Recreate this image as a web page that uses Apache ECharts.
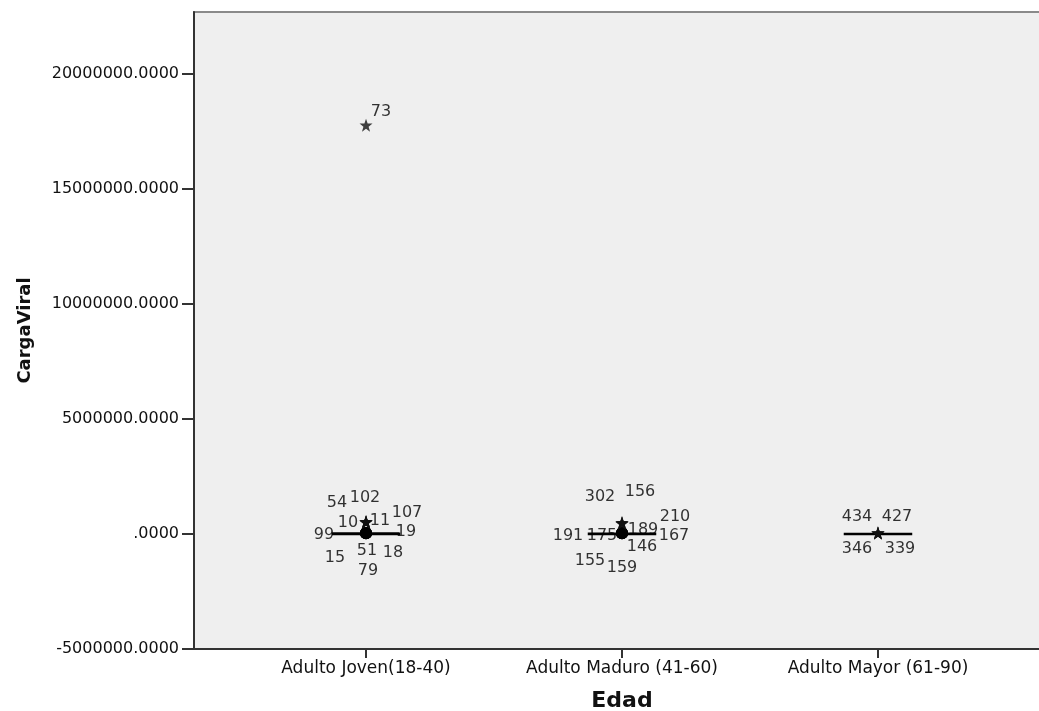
<!DOCTYPE html>
<html><head><meta charset="utf-8">
<script src="https://cdn.jsdelivr.net/npm/echarts@6/dist/echarts.min.js"></script>
<style>html,body{margin:0;padding:0;background:#fff}#c{width:1039px;height:711px}</style>
</head><body><div id="c"></div>
<script>
// ---------- DATA ----------
const categories = ['Adulto Joven(18-40)', 'Adulto Maduro (41-60)', 'Adulto Mayor (61-90)'];
const yTicks = [-5000000, 0, 5000000, 10000000, 15000000, 20000000];
const yMin = -5000000;
const yMax = 22700000;

// box statistics per group: [min, Q1, median, Q3, max]
const boxJoven  = [0, 20, 200, 9000, 22000];
const boxMaduro = [0, 20, 100, 7000, 17000];
const boxMayor  = [0, 20, 40, 2000, 5000];

// outliers (circles): case ids and values
const outJovenIds  = [99, 19, 15, 51, 18, 79];
const outJovenVals = [38000, 42000, 35000, 40000, 45000, 33000];
const outMaduroIds  = [191, 175, 167, 146, 155, 159];
const outMaduroVals = [36000, 41000, 39000, 44000, 34000, 38000];
const outMayorIds  = [];
const outMayorVals = [];

// extremes (stars): case ids and values
const extJovenIds  = [73, 54, 102, 10, 11, 107];
const extJovenVals = [17780000, 525000, 540000, 515000, 520000, 530000];
const extMaduroIds  = [302, 156, 210, 189];
const extMaduroVals = [490000, 500000, 470000, 460000];
const extMayorIds  = [434, 427, 346, 339];
const extMayorVals = [48000, 46000, 40000, 42000];

// ---------- LABEL LAYOUT (pixel offsets of case-id labels from their marks) ----------
const labelOffsets = {
  73: [15, -13], 54: [-29, -19], 102: [-1, -24], 107: [41, -9], 10: [-18, 1], 11: [14, -1],
  99: [-42, 2], 19: [40, -1], 15: [-31, 25], 51: [1, 18], 18: [27, 20], 79: [2, 38],
  302: [-22, -26], 156: [18, -31], 210: [53, -6], 189: [21, 6],
  191: [-54, 3], 175: [-20, 3], 167: [52, 3], 146: [20, 14], 155: [-32, 28], 159: [0, 35],
  434: [-21, -16], 427: [19, -16], 346: [-21, 16], 339: [22, 16]
};

// ---------- BUILD ----------
const boxes = [boxJoven, boxMaduro, boxMayor];
const outGroups = [[outJovenIds, outJovenVals], [outMaduroIds, outMaduroVals], [outMayorIds, outMayorVals]];
const extGroups = [[extJovenIds, extJovenVals], [extMaduroIds, extMaduroVals], [extMayorIds, extMayorVals]];

function pts(groups) {
  const res = [];
  groups.forEach((g, gi) => {
    g[0].forEach((id, i) => {
      res.push({ value: [gi, g[1][i], String(id)], label: { offset: labelOffsets[id] || [0, 0] } });
    });
  });
  return res;
}

const FONT = 'DejaVu Sans';
const starPath = 'path://M0,-10 L2.35,-3.24 L9.51,-3.09 L3.8,1.24 L5.88,8.09 L0,4 L-5.88,8.09 L-3.8,1.24 L-9.51,-3.09 L-2.35,-3.24 Z';
const idLabel = {
  show: true, position: 'inside', formatter: p => p.data.value[2],
  color: '#000', textBorderWidth: 0, textBorderColor: 'transparent',
  fontFamily: FONT, fontSize: 16
};

const chart = echarts.init(document.getElementById('c'), null, { renderer: 'canvas' });
chart.setOption({
  animation: false,
  backgroundColor: '#ffffff',
  grid: {
    left: 194, top: 12, right: -11, bottom: 62, containLabel: false, outerBoundsMode: 'none',
    show: true, backgroundColor: '#efefef', borderColor: '#8a8a8a', borderWidth: 2
  },
  xAxis: {
    type: 'value', min: -0.672, max: 2.672,
    name: 'Edad', nameLocation: 'middle', nameGap: 41,
    nameTextStyle: { fontFamily: FONT, fontSize: 22, fontWeight: 'bold', color: '#111' },
    splitLine: { show: false },
    axisLine: { show: true, onZero: false, lineStyle: { color: '#333', width: 2 } },
    axisTick: { show: true, customValues: [0, 1, 2], length: 9, lineStyle: { color: '#333', width: 2 } },
    axisLabel: {
      customValues: [0, 1, 2], margin: 11,
      formatter: v => categories[Math.round(v)] || '',
      fontFamily: FONT, fontSize: 17, color: '#111'
    }
  },
  yAxis: {
    type: 'value', min: yMin, max: yMax,
    name: 'CargaViral', nameLocation: 'middle', nameGap: 160, nameRotate: 90,
    nameTextStyle: { fontFamily: FONT, fontSize: 18, fontWeight: 'bold', color: '#111' },
    splitLine: { show: false },
    axisLine: { show: true, onZero: false, lineStyle: { color: '#333', width: 2 } },
    axisTick: { show: true, customValues: yTicks, length: 12, lineStyle: { color: '#333', width: 2 } },
    axisLabel: {
      customValues: yTicks, margin: 15,
      formatter: v => (v === 0 ? '.0000' : v.toFixed(4)),
      fontFamily: FONT, fontSize: 16, color: '#111'
    }
  },
  series: [
    {
      type: 'boxplot',
      data: boxes.map((b, i) => [i].concat(b)),
      encode: { x: 0, y: [1, 2, 3, 4, 5] },
      boxWidth: [66, 66],
      itemStyle: { color: '#000', borderColor: '#000', borderWidth: 2.5 },
      z: 3
    },
    {
      type: 'scatter', name: 'outliers',
      data: pts(outGroups),
      symbol: 'circle', symbolSize: 12,
      itemStyle: { color: '#000' },
      label: idLabel,
      z: 4
    },
    {
      type: 'scatter', name: 'extremes',
      data: pts(extGroups),
      symbol: starPath, symbolSize: 13,
      itemStyle: { color: '#111' },
      label: idLabel,
      z: 5
    }
  ]
});
</script>
</body></html>
